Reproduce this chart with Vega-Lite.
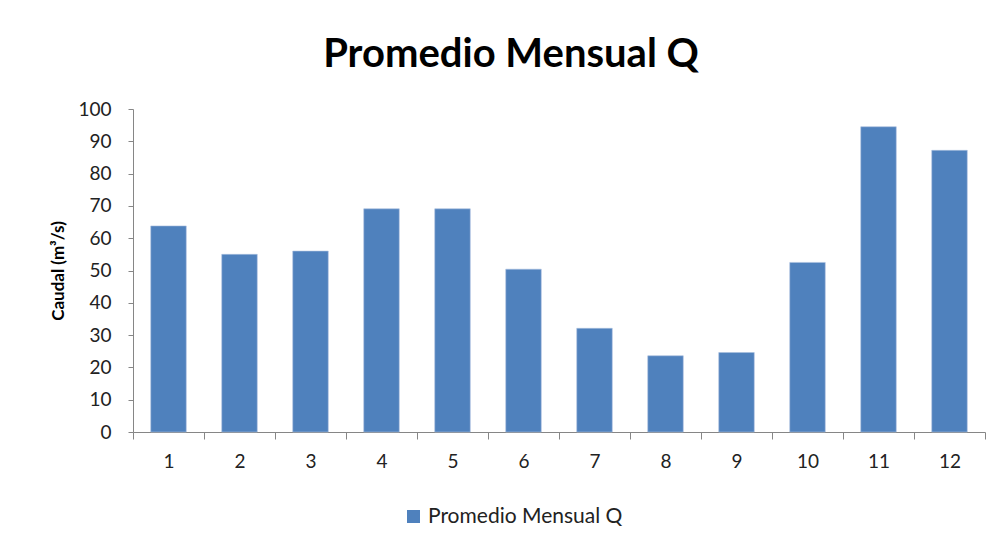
{
  "$schema": "https://vega.github.io/schema/vega-lite/v6.json",
  "autosize": {"type": "none"},
  "width": 852,
  "height": 323,
  "padding": {"left": 133, "top": 109, "right": 15, "bottom": 114},
  "background": "white",
  "title": {
    "text": "Promedio Mensual Q",
    "font": "Lato",
    "fontSize": 40,
    "fontWeight": "bold",
    "color": "#000000",
    "anchor": "middle",
    "dx": -48,
    "offset": 25
  },
  "data": {
    "values": [
      {"mes": "1", "q": 63.8, "serie": "Promedio Mensual Q"},
      {"mes": "2", "q": 55.0, "serie": "Promedio Mensual Q"},
      {"mes": "3", "q": 56.0, "serie": "Promedio Mensual Q"},
      {"mes": "4", "q": 69.1, "serie": "Promedio Mensual Q"},
      {"mes": "5", "q": 69.1, "serie": "Promedio Mensual Q"},
      {"mes": "6", "q": 50.4, "serie": "Promedio Mensual Q"},
      {"mes": "7", "q": 32.1, "serie": "Promedio Mensual Q"},
      {"mes": "8", "q": 23.6, "serie": "Promedio Mensual Q"},
      {"mes": "9", "q": 24.6, "serie": "Promedio Mensual Q"},
      {"mes": "10", "q": 52.5, "serie": "Promedio Mensual Q"},
      {"mes": "11", "q": 94.5, "serie": "Promedio Mensual Q"},
      {"mes": "12", "q": 87.2, "serie": "Promedio Mensual Q"}
    ]
  },
  "mark": {"type": "bar", "width": {"band": 0.5}, "stroke": "#a9bfdf", "strokeWidth": 0.6},
  "encoding": {
    "x": {
      "field": "mes",
      "type": "ordinal",
      "sort": null,
      "scale": {"paddingInner": 0, "paddingOuter": 0},
      "axis": {
        "title": null,
        "labelAngle": 0,
        "tickBand": "extent",
        "tickSize": 7,
        "labelPadding": 13,
        "labelFont": "Lato",
        "labelFontSize": 19,
        "labelColor": "#222222",
        "domainColor": "#868686",
        "tickColor": "#868686",
        "grid": false
      }
    },
    "y": {
      "field": "q",
      "type": "quantitative",
      "scale": {"domain": [0, 100], "nice": false},
      "axis": {
        "title": "Caudal (m³/s)",
        "titleFont": "Lato",
        "titleFontSize": 17,
        "titleFontWeight": "bold",
        "titleColor": "#000000",
        "titlePadding": 10,
        "values": [0, 10, 20, 30, 40, 50, 60, 70, 80, 90, 100],
        "tickSize": 5,
        "labelPadding": 17,
        "labelFont": "Lato",
        "labelFontSize": 19,
        "labelColor": "#222222",
        "domainColor": "#868686",
        "tickColor": "#868686",
        "grid": false
      }
    },
    "color": {
      "field": "serie",
      "type": "nominal",
      "scale": {"range": ["#4F81BD"]},
      "legend": {
        "title": null,
        "orient": "none",
        "legendX": 270,
        "legendY": 397,
        "padding": 0,
        "symbolType": "square",
        "symbolSize": 169,
        "symbolStrokeWidth": 0,
        "labelFont": "Lato",
        "labelFontSize": 21,
        "labelColor": "#222222",
        "labelOffset": 4,
        "labelLimit": 0
      }
    }
  },
  "config": {"view": {"stroke": null}}
}
